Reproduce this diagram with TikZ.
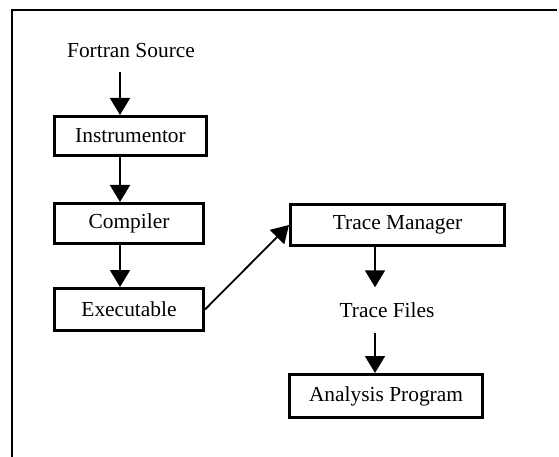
\documentclass[tikz,border=0pt]{standalone}
\usepackage{fontspec}
\setmainfont{Liberation Serif}
\usetikzlibrary{arrows.meta}
\begin{document}
\begin{tikzpicture}[x=1pt,y=-1pt,
  txt/.style={font=\fontsize{21.4}{24}\selectfont,inner sep=0pt},
  stage/.style={txt,draw,line width=3pt},
  flow/.style={line width=1.8pt,-{Triangle[width=20pt,length=17pt]}},
  frame/.style={line width=2pt}]
\useasboundingbox (0,0) rectangle (559,457);

% open frame: top and left edges only
\draw[frame] (557,10) -- (12,10) -- (12,457);

% arrow columns
\coordinate (colL) at (120,0);
\coordinate (colR) at (375,0);

% left chain
\node[txt] (src) at (131,51) {Fortran Source};
\node[stage,minimum width=152pt,minimum height=39pt] (instr) at (130.5,136) {Instrumentor};
\node[stage,minimum width=149pt,minimum height=40pt] (comp) at (129,223.5) {Compiler};
\node[stage,minimum width=149pt,minimum height=42pt] (exe) at (129,309.5) {Executable};

% right chain
\node[stage,minimum width=214pt,minimum height=41pt] (tm) at (397.5,225) {Trace Manager};
\node[txt] (tf) at (387,310) {Trace Files};
\node[stage,minimum width=193pt,minimum height=43pt] (ap) at (386,396) {Analysis Program};

% connectors
\draw[flow,shorten <=14pt] (src.south -| colL) -- (instr.north -| colL);
\draw[flow] (instr.south -| colL) -- (comp.north -| colL);
\draw[flow] (comp.south -| colL) -- (exe.north -| colL);
\draw[flow] (exe.east) -- (tm.west);
\draw[flow,shorten >=15pt] (tm.south -| colR) -- (tf.north -| colR);
\draw[flow,shorten <=15pt] (tf.south -| colR) -- (ap.north -| colR);
\end{tikzpicture}
\end{document}
